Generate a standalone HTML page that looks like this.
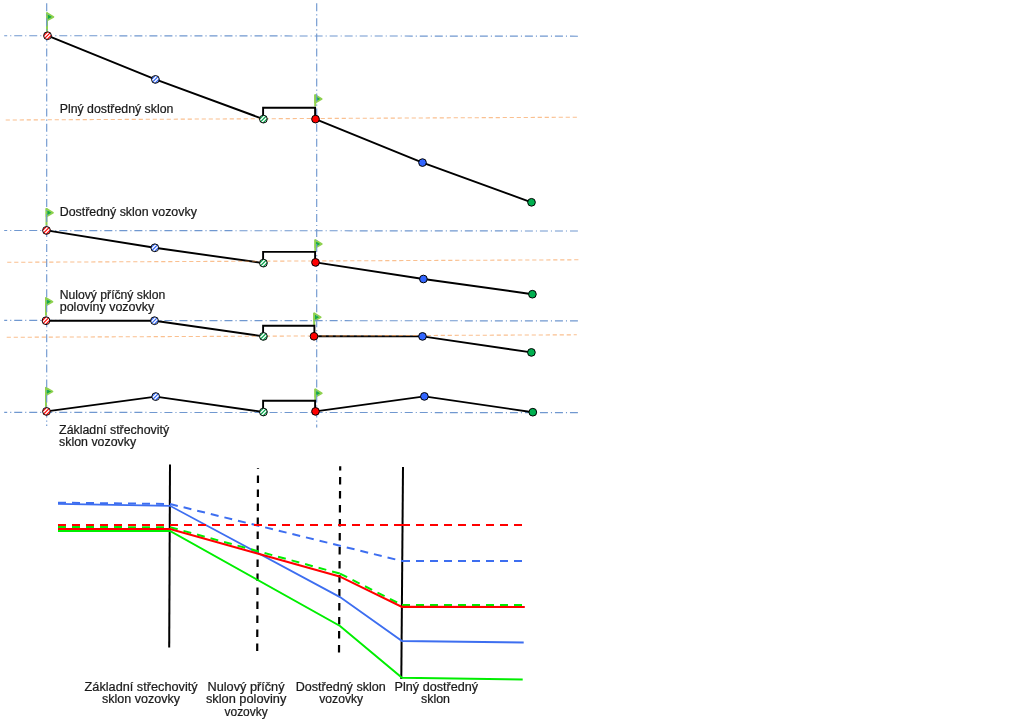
<!DOCTYPE html>
<html><head><meta charset="utf-8"><style>
html,body{margin:0;padding:0;background:#fff;}
svg{display:block;}
text{font-family:"Liberation Sans", sans-serif;}
.t{will-change:transform;}
</style></head><body>
<svg width="1024" height="720" viewBox="0 0 1024 720">
<defs>
<clipPath id="c0"><circle cx="47.5" cy="35.7" r="4.0"/></clipPath><clipPath id="c1"><circle cx="155.4" cy="79.4" r="4.0"/></clipPath><clipPath id="c2"><circle cx="263.4" cy="119.1" r="4.0"/></clipPath><clipPath id="c3"><circle cx="46.5" cy="230.4" r="4.0"/></clipPath><clipPath id="c4"><circle cx="154.8" cy="247.8" r="4.0"/></clipPath><clipPath id="c5"><circle cx="263.4" cy="263.1" r="4.0"/></clipPath><clipPath id="c6"><circle cx="46" cy="320.7" r="4.0"/></clipPath><clipPath id="c7"><circle cx="154.5" cy="320.7" r="4.0"/></clipPath><clipPath id="c8"><circle cx="263.4" cy="336.4" r="4.0"/></clipPath><clipPath id="c9"><circle cx="46.5" cy="411.4" r="4.0"/></clipPath><clipPath id="c10"><circle cx="155.7" cy="396.6" r="4.0"/></clipPath><clipPath id="c11"><circle cx="263.4" cy="412" r="4.0"/></clipPath>
</defs>
<rect width="1024" height="720" fill="#fff"/>
<line x1="47.0" y1="31.5" x2="47.0" y2="12.5" stroke="#8fd14f" stroke-width="2"/>
<path d="M47.0,13.0 L53.5,16.9 L47.0,20.6 Z" fill="#12a84a" stroke="#8fd14f" stroke-width="1.7" stroke-linejoin="round"/>
<line x1="315.2" y1="106.5" x2="315.2" y2="94.6" stroke="#8fd14f" stroke-width="2"/>
<path d="M315.2,95.1 L321.7,99.0 L315.2,102.69999999999999 Z" fill="#12a84a" stroke="#8fd14f" stroke-width="1.7" stroke-linejoin="round"/>
<line x1="46.5" y1="225.7" x2="46.5" y2="208.3" stroke="#8fd14f" stroke-width="2"/>
<path d="M46.5,208.8 L53.0,212.70000000000002 L46.5,216.4 Z" fill="#12a84a" stroke="#8fd14f" stroke-width="1.7" stroke-linejoin="round"/>
<line x1="315.3" y1="250.9" x2="315.3" y2="239.6" stroke="#8fd14f" stroke-width="2"/>
<path d="M315.3,240.1 L321.8,244.0 L315.3,247.7 Z" fill="#12a84a" stroke="#8fd14f" stroke-width="1.7" stroke-linejoin="round"/>
<line x1="46" y1="315.7" x2="46" y2="297.4" stroke="#8fd14f" stroke-width="2"/>
<path d="M46,297.9 L52.5,301.79999999999995 L46,305.5 Z" fill="#12a84a" stroke="#8fd14f" stroke-width="1.7" stroke-linejoin="round"/>
<line x1="314.2" y1="325" x2="314.2" y2="312.8" stroke="#8fd14f" stroke-width="2"/>
<path d="M314.2,313.3 L320.7,317.2 L314.2,320.90000000000003 Z" fill="#12a84a" stroke="#8fd14f" stroke-width="1.7" stroke-linejoin="round"/>
<line x1="46" y1="407" x2="46" y2="387.2" stroke="#8fd14f" stroke-width="2"/>
<path d="M46,387.7 L52.5,391.59999999999997 L46,395.3 Z" fill="#12a84a" stroke="#8fd14f" stroke-width="1.7" stroke-linejoin="round"/>
<line x1="315.3" y1="400" x2="315.3" y2="388.8" stroke="#8fd14f" stroke-width="2"/>
<path d="M315.3,389.3 L321.8,393.2 L315.3,396.90000000000003 Z" fill="#12a84a" stroke="#8fd14f" stroke-width="1.7" stroke-linejoin="round"/>
<line x1="46.7" y1="3.3" x2="46.7" y2="426" stroke="#7098d0" stroke-width="1.15" stroke-dasharray="8 3 1.1 2.946" stroke-dashoffset="0"/>
<line x1="316.7" y1="3.3" x2="316.7" y2="427.5" stroke="#7098d0" stroke-width="1.15" stroke-dasharray="8 3 1.1 2.946" stroke-dashoffset="0"/>
<line x1="4.2" y1="35.7" x2="577.9" y2="36.2" stroke="#7098d0" stroke-width="1.15" stroke-dasharray="8 3 1.1 2.920" stroke-dashoffset="5"/>
<line x1="4.2" y1="230.5" x2="577.9" y2="231" stroke="#7098d0" stroke-width="1.15" stroke-dasharray="8 3 1.1 2.920" stroke-dashoffset="5"/>
<line x1="4.2" y1="320.4" x2="577.9" y2="320.9" stroke="#7098d0" stroke-width="1.15" stroke-dasharray="8 3 1.1 2.920" stroke-dashoffset="5"/>
<line x1="4.2" y1="412.4" x2="577.9" y2="412.6" stroke="#7098d0" stroke-width="1.15" stroke-dasharray="8 3 1.1 2.920" stroke-dashoffset="5"/>
<polyline points="47.5,35.7 155.4,79.4 263.4,119.1" fill="none" stroke="#000" stroke-width="1.9" stroke-linejoin="miter"/>
<polyline points="315.5,119.1 422.5,162.6 531.5,202.3" fill="none" stroke="#000" stroke-width="1.9" stroke-linejoin="miter"/>
<polyline points="263.1,119.1 263.1,107.8 315.1,107.8 315.1,119.1" fill="none" stroke="#000" stroke-width="1.9" stroke-linejoin="miter"/>
<line x1="5" y1="120" x2="578" y2="117.2" stroke="#f79646" stroke-opacity="0.6" stroke-width="1.1" stroke-dasharray="4.2 2.8" stroke-dashoffset="6.3"/>
<polyline points="46.5,230.4 154.8,247.8 263.4,263.1" fill="none" stroke="#000" stroke-width="1.9" stroke-linejoin="miter"/>
<polyline points="315.5,262.4 423.4,279 532.4,294.2" fill="none" stroke="#000" stroke-width="1.9" stroke-linejoin="miter"/>
<polyline points="263.1,263.1 263.1,251.9 315.1,251.9 315.1,262.4" fill="none" stroke="#000" stroke-width="1.9" stroke-linejoin="miter"/>
<line x1="6.5" y1="262.3" x2="578.7" y2="259.8" stroke="#f79646" stroke-opacity="0.6" stroke-width="1.1" stroke-dasharray="4.2 2.8" stroke-dashoffset="6.3"/>
<polyline points="46,320.7 154.5,320.7 263.4,336.4" fill="none" stroke="#000" stroke-width="1.9" stroke-linejoin="miter"/>
<polyline points="314,336.3 422.5,336.4 531.4,352.4" fill="none" stroke="#000" stroke-width="1.9" stroke-linejoin="miter"/>
<polyline points="263.1,336.4 263.1,325.8 314.4,325.8 314.4,336.3" fill="none" stroke="#000" stroke-width="1.9" stroke-linejoin="miter"/>
<line x1="6" y1="337.3" x2="576.8" y2="334.8" stroke="#f79646" stroke-opacity="0.6" stroke-width="1.1" stroke-dasharray="4.2 2.8" stroke-dashoffset="6.3"/>
<polyline points="46.5,411.4 155.7,396.6 263.4,412" fill="none" stroke="#000" stroke-width="1.9" stroke-linejoin="miter"/>
<polyline points="315.5,411.4 424.4,396.4 532.8,412.2" fill="none" stroke="#000" stroke-width="1.9" stroke-linejoin="miter"/>
<polyline points="263.1,412 263.1,400.8 315.1,400.8 315.1,411.4" fill="none" stroke="#000" stroke-width="1.9" stroke-linejoin="miter"/>
<g clip-path="url(#c0)"><circle cx="47.5" cy="35.7" r="4" fill="#fff"/><line x1="37.72" y1="37.92" x2="49.72" y2="25.92" stroke="#ff0000" stroke-width="1.2"/><line x1="39.56" y1="39.76" x2="51.56" y2="27.76" stroke="#ff0000" stroke-width="1.2"/><line x1="41.40" y1="41.60" x2="53.40" y2="29.60" stroke="#ff0000" stroke-width="1.2"/><line x1="43.24" y1="43.44" x2="55.24" y2="31.44" stroke="#ff0000" stroke-width="1.2"/><line x1="45.08" y1="45.28" x2="57.08" y2="33.28" stroke="#ff0000" stroke-width="1.2"/></g>
<circle cx="47.5" cy="35.7" r="3.9" fill="none" stroke="#000" stroke-width="0.95"/>
<g clip-path="url(#c1)"><circle cx="155.4" cy="79.4" r="4" fill="#fff"/><line x1="145.62" y1="81.62" x2="157.62" y2="69.62" stroke="#2f64f5" stroke-width="1.2"/><line x1="147.46" y1="83.46" x2="159.46" y2="71.46" stroke="#2f64f5" stroke-width="1.2"/><line x1="149.30" y1="85.30" x2="161.30" y2="73.30" stroke="#2f64f5" stroke-width="1.2"/><line x1="151.14" y1="87.14" x2="163.14" y2="75.14" stroke="#2f64f5" stroke-width="1.2"/><line x1="152.98" y1="88.98" x2="164.98" y2="76.98" stroke="#2f64f5" stroke-width="1.2"/></g>
<circle cx="155.4" cy="79.4" r="3.9" fill="none" stroke="#000" stroke-width="0.95"/>
<g clip-path="url(#c2)"><circle cx="263.4" cy="119.1" r="4" fill="#fff"/><line x1="253.62" y1="121.32" x2="265.62" y2="109.32" stroke="#00a548" stroke-width="1.2"/><line x1="255.46" y1="123.16" x2="267.46" y2="111.16" stroke="#00a548" stroke-width="1.2"/><line x1="257.30" y1="125.00" x2="269.30" y2="113.00" stroke="#00a548" stroke-width="1.2"/><line x1="259.14" y1="126.84" x2="271.14" y2="114.84" stroke="#00a548" stroke-width="1.2"/><line x1="260.98" y1="128.68" x2="272.98" y2="116.68" stroke="#00a548" stroke-width="1.2"/></g>
<circle cx="263.4" cy="119.1" r="3.9" fill="none" stroke="#000" stroke-width="0.95"/>
<circle cx="315.5" cy="119.1" r="3.85" fill="#ff0000" stroke="#000" stroke-width="1.0"/>
<circle cx="422.5" cy="162.6" r="3.85" fill="#3366ff" stroke="#000" stroke-width="1.0"/>
<circle cx="531.5" cy="202.3" r="3.85" fill="#00b050" stroke="#000" stroke-width="1.0"/>
<g clip-path="url(#c3)"><circle cx="46.5" cy="230.4" r="4" fill="#fff"/><line x1="36.72" y1="232.62" x2="48.72" y2="220.62" stroke="#ff0000" stroke-width="1.2"/><line x1="38.56" y1="234.46" x2="50.56" y2="222.46" stroke="#ff0000" stroke-width="1.2"/><line x1="40.40" y1="236.30" x2="52.40" y2="224.30" stroke="#ff0000" stroke-width="1.2"/><line x1="42.24" y1="238.14" x2="54.24" y2="226.14" stroke="#ff0000" stroke-width="1.2"/><line x1="44.08" y1="239.98" x2="56.08" y2="227.98" stroke="#ff0000" stroke-width="1.2"/></g>
<circle cx="46.5" cy="230.4" r="3.9" fill="none" stroke="#000" stroke-width="0.95"/>
<g clip-path="url(#c4)"><circle cx="154.8" cy="247.8" r="4" fill="#fff"/><line x1="145.02" y1="250.02" x2="157.02" y2="238.02" stroke="#2f64f5" stroke-width="1.2"/><line x1="146.86" y1="251.86" x2="158.86" y2="239.86" stroke="#2f64f5" stroke-width="1.2"/><line x1="148.70" y1="253.70" x2="160.70" y2="241.70" stroke="#2f64f5" stroke-width="1.2"/><line x1="150.54" y1="255.54" x2="162.54" y2="243.54" stroke="#2f64f5" stroke-width="1.2"/><line x1="152.38" y1="257.38" x2="164.38" y2="245.38" stroke="#2f64f5" stroke-width="1.2"/></g>
<circle cx="154.8" cy="247.8" r="3.9" fill="none" stroke="#000" stroke-width="0.95"/>
<g clip-path="url(#c5)"><circle cx="263.4" cy="263.1" r="4" fill="#fff"/><line x1="253.62" y1="265.32" x2="265.62" y2="253.32" stroke="#00a548" stroke-width="1.2"/><line x1="255.46" y1="267.16" x2="267.46" y2="255.16" stroke="#00a548" stroke-width="1.2"/><line x1="257.30" y1="269.00" x2="269.30" y2="257.00" stroke="#00a548" stroke-width="1.2"/><line x1="259.14" y1="270.84" x2="271.14" y2="258.84" stroke="#00a548" stroke-width="1.2"/><line x1="260.98" y1="272.68" x2="272.98" y2="260.68" stroke="#00a548" stroke-width="1.2"/></g>
<circle cx="263.4" cy="263.1" r="3.9" fill="none" stroke="#000" stroke-width="0.95"/>
<circle cx="315.5" cy="262.4" r="3.85" fill="#ff0000" stroke="#000" stroke-width="1.0"/>
<circle cx="423.4" cy="279" r="3.85" fill="#3366ff" stroke="#000" stroke-width="1.0"/>
<circle cx="532.4" cy="294.2" r="3.85" fill="#00b050" stroke="#000" stroke-width="1.0"/>
<g clip-path="url(#c6)"><circle cx="46" cy="320.7" r="4" fill="#fff"/><line x1="36.22" y1="322.92" x2="48.22" y2="310.92" stroke="#ff0000" stroke-width="1.2"/><line x1="38.06" y1="324.76" x2="50.06" y2="312.76" stroke="#ff0000" stroke-width="1.2"/><line x1="39.90" y1="326.60" x2="51.90" y2="314.60" stroke="#ff0000" stroke-width="1.2"/><line x1="41.74" y1="328.44" x2="53.74" y2="316.44" stroke="#ff0000" stroke-width="1.2"/><line x1="43.58" y1="330.28" x2="55.58" y2="318.28" stroke="#ff0000" stroke-width="1.2"/></g>
<circle cx="46" cy="320.7" r="3.9" fill="none" stroke="#000" stroke-width="0.95"/>
<g clip-path="url(#c7)"><circle cx="154.5" cy="320.7" r="4" fill="#fff"/><line x1="144.72" y1="322.92" x2="156.72" y2="310.92" stroke="#2f64f5" stroke-width="1.2"/><line x1="146.56" y1="324.76" x2="158.56" y2="312.76" stroke="#2f64f5" stroke-width="1.2"/><line x1="148.40" y1="326.60" x2="160.40" y2="314.60" stroke="#2f64f5" stroke-width="1.2"/><line x1="150.24" y1="328.44" x2="162.24" y2="316.44" stroke="#2f64f5" stroke-width="1.2"/><line x1="152.08" y1="330.28" x2="164.08" y2="318.28" stroke="#2f64f5" stroke-width="1.2"/></g>
<circle cx="154.5" cy="320.7" r="3.9" fill="none" stroke="#000" stroke-width="0.95"/>
<g clip-path="url(#c8)"><circle cx="263.4" cy="336.4" r="4" fill="#fff"/><line x1="253.62" y1="338.62" x2="265.62" y2="326.62" stroke="#00a548" stroke-width="1.2"/><line x1="255.46" y1="340.46" x2="267.46" y2="328.46" stroke="#00a548" stroke-width="1.2"/><line x1="257.30" y1="342.30" x2="269.30" y2="330.30" stroke="#00a548" stroke-width="1.2"/><line x1="259.14" y1="344.14" x2="271.14" y2="332.14" stroke="#00a548" stroke-width="1.2"/><line x1="260.98" y1="345.98" x2="272.98" y2="333.98" stroke="#00a548" stroke-width="1.2"/></g>
<circle cx="263.4" cy="336.4" r="3.9" fill="none" stroke="#000" stroke-width="0.95"/>
<circle cx="314" cy="336.3" r="3.85" fill="#ff0000" stroke="#000" stroke-width="1.0"/>
<circle cx="422.5" cy="336.4" r="3.85" fill="#3366ff" stroke="#000" stroke-width="1.0"/>
<circle cx="531.4" cy="352.4" r="3.85" fill="#00b050" stroke="#000" stroke-width="1.0"/>
<g clip-path="url(#c9)"><circle cx="46.5" cy="411.4" r="4" fill="#fff"/><line x1="36.72" y1="413.62" x2="48.72" y2="401.62" stroke="#ff0000" stroke-width="1.2"/><line x1="38.56" y1="415.46" x2="50.56" y2="403.46" stroke="#ff0000" stroke-width="1.2"/><line x1="40.40" y1="417.30" x2="52.40" y2="405.30" stroke="#ff0000" stroke-width="1.2"/><line x1="42.24" y1="419.14" x2="54.24" y2="407.14" stroke="#ff0000" stroke-width="1.2"/><line x1="44.08" y1="420.98" x2="56.08" y2="408.98" stroke="#ff0000" stroke-width="1.2"/></g>
<circle cx="46.5" cy="411.4" r="3.9" fill="none" stroke="#000" stroke-width="0.95"/>
<g clip-path="url(#c10)"><circle cx="155.7" cy="396.6" r="4" fill="#fff"/><line x1="145.92" y1="398.82" x2="157.92" y2="386.82" stroke="#2f64f5" stroke-width="1.2"/><line x1="147.76" y1="400.66" x2="159.76" y2="388.66" stroke="#2f64f5" stroke-width="1.2"/><line x1="149.60" y1="402.50" x2="161.60" y2="390.50" stroke="#2f64f5" stroke-width="1.2"/><line x1="151.44" y1="404.34" x2="163.44" y2="392.34" stroke="#2f64f5" stroke-width="1.2"/><line x1="153.28" y1="406.18" x2="165.28" y2="394.18" stroke="#2f64f5" stroke-width="1.2"/></g>
<circle cx="155.7" cy="396.6" r="3.9" fill="none" stroke="#000" stroke-width="0.95"/>
<g clip-path="url(#c11)"><circle cx="263.4" cy="412" r="4" fill="#fff"/><line x1="253.62" y1="414.22" x2="265.62" y2="402.22" stroke="#00a548" stroke-width="1.2"/><line x1="255.46" y1="416.06" x2="267.46" y2="404.06" stroke="#00a548" stroke-width="1.2"/><line x1="257.30" y1="417.90" x2="269.30" y2="405.90" stroke="#00a548" stroke-width="1.2"/><line x1="259.14" y1="419.74" x2="271.14" y2="407.74" stroke="#00a548" stroke-width="1.2"/><line x1="260.98" y1="421.58" x2="272.98" y2="409.58" stroke="#00a548" stroke-width="1.2"/></g>
<circle cx="263.4" cy="412" r="3.9" fill="none" stroke="#000" stroke-width="0.95"/>
<circle cx="315.5" cy="411.4" r="3.85" fill="#ff0000" stroke="#000" stroke-width="1.0"/>
<circle cx="424.4" cy="396.4" r="3.85" fill="#3366ff" stroke="#000" stroke-width="1.0"/>
<circle cx="532.8" cy="412.2" r="3.85" fill="#00b050" stroke="#000" stroke-width="1.0"/>
<g class="t" font-family="Liberation Sans, sans-serif" font-size="12" fill="#1a1a1a" stroke="#1a1a1a" stroke-width="0.22">
<text x="59.7" y="112.5" textLength="113.7" lengthAdjust="spacingAndGlyphs" text-anchor="start">Plný dostředný sklon</text>
<text x="59.7" y="215.6" textLength="137.2" lengthAdjust="spacingAndGlyphs" text-anchor="start">Dostředný sklon vozovky</text>
<text x="59.7" y="298.6" textLength="105.6" lengthAdjust="spacingAndGlyphs" text-anchor="start">Nulový příčný sklon</text>
<text x="59.7" y="311.2" textLength="94.7" lengthAdjust="spacingAndGlyphs" text-anchor="start">poloviny vozovky</text>
<text x="59.1" y="434" textLength="110" lengthAdjust="spacingAndGlyphs" text-anchor="start">Základní střechovitý</text>
<text x="59.1" y="445.6" textLength="77" lengthAdjust="spacingAndGlyphs" text-anchor="start">sklon vozovky</text>
<text x="84.6" y="691.3" textLength="113" lengthAdjust="spacingAndGlyphs" text-anchor="start">Základní střechovitý</text>
<text x="102" y="703" textLength="78" lengthAdjust="spacingAndGlyphs" text-anchor="start">sklon vozovky</text>
<text x="207.5" y="691.3" textLength="77" lengthAdjust="spacingAndGlyphs" text-anchor="start">Nulový příčný</text>
<text x="205.9" y="703" textLength="80.4" lengthAdjust="spacingAndGlyphs" text-anchor="start">sklon poloviny</text>
<text x="224.5" y="715.5" textLength="43.2" lengthAdjust="spacingAndGlyphs" text-anchor="start">vozovky</text>
<text x="295.7" y="691.3" textLength="90" lengthAdjust="spacingAndGlyphs" text-anchor="start">Dostředný sklon</text>
<text x="319.3" y="703" textLength="43.8" lengthAdjust="spacingAndGlyphs" text-anchor="start">vozovky</text>
<text x="394.6" y="691.3" textLength="83.5" lengthAdjust="spacingAndGlyphs" text-anchor="start">Plný dostředný</text>
<text x="421" y="703" textLength="29" lengthAdjust="spacingAndGlyphs" text-anchor="start">sklon</text>
</g>
<line x1="170" y1="464.5" x2="169.2" y2="647.5" stroke="#000" stroke-width="2"/>
<line x1="403" y1="467" x2="401.3" y2="679" stroke="#000" stroke-width="2"/>
<line x1="258" y1="468.2" x2="257.2" y2="651.3" stroke="#000" stroke-width="2.2" stroke-dasharray="7.5 6.5" stroke-dashoffset="6.8"/>
<line x1="340.2" y1="466.2" x2="339" y2="652.9" stroke="#000" stroke-width="2.2" stroke-dasharray="7.5 6.5" stroke-dashoffset="3.1"/>
<line x1="58" y1="502.7" x2="170" y2="504" stroke="#3d6ef0" stroke-width="2" stroke-dasharray="8 6"/>
<line x1="170" y1="504" x2="402" y2="561.0" stroke="#3d6ef0" stroke-width="2" stroke-dasharray="8 6"/>
<line x1="402" y1="561.0" x2="522" y2="561.0" stroke="#3d6ef0" stroke-width="2" stroke-dasharray="8 6"/>
<polyline points="58,503.8 170,505.8 340,597.1 402,641 523.7,642.5" fill="none" stroke="#3d6ef0" stroke-width="1.8"/>
<line x1="58" y1="525" x2="170" y2="525" stroke="#ff0000" stroke-width="2" stroke-dasharray="8 6"/>
<line x1="170" y1="525" x2="402" y2="525" stroke="#ff0000" stroke-width="2" stroke-dasharray="8 6"/>
<line x1="402" y1="525" x2="522.3" y2="525" stroke="#ff0000" stroke-width="2" stroke-dasharray="8 6"/>
<line x1="58" y1="527" x2="170" y2="527.2" stroke="#00ee00" stroke-width="2" stroke-dasharray="8 6"/>
<line x1="170" y1="527.2" x2="340" y2="573.6" stroke="#00ee00" stroke-width="2" stroke-dasharray="8 6"/>
<line x1="340" y1="573.6" x2="402" y2="605" stroke="#00ee00" stroke-width="2" stroke-dasharray="8 6"/>
<line x1="402" y1="605" x2="522" y2="605" stroke="#00ee00" stroke-width="2" stroke-dasharray="8 6"/>
<polyline points="58,529 170,529 339.5,576.4 402,606.9 524.8,607" fill="none" stroke="#ff0000" stroke-width="2.1"/>
<polyline points="58,530.9 170,530.9 340,626 402,677.8 522.7,679.6" fill="none" stroke="#00ee00" stroke-width="2"/>
</svg>
</body></html>
